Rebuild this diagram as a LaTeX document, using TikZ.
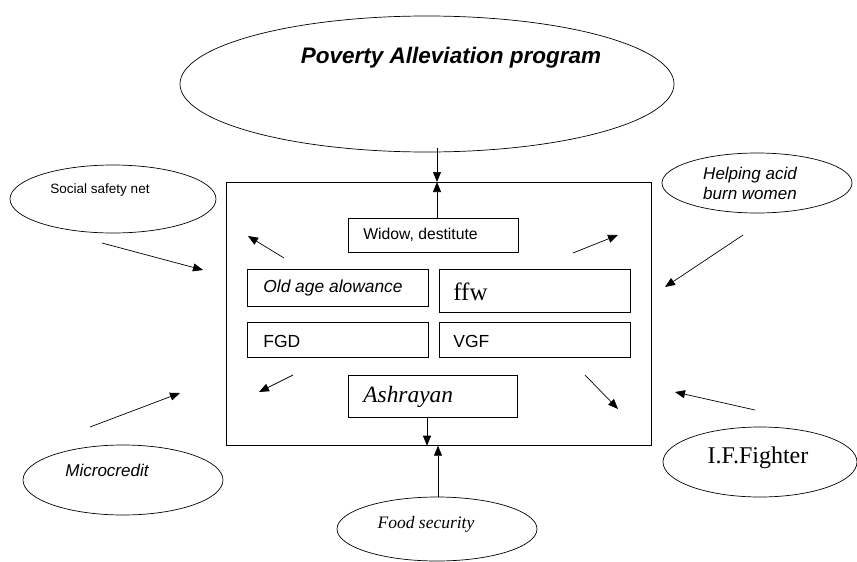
\documentclass[tikz,border=0pt]{standalone}
\usepackage{fontspec}
\setmainfont{Liberation Serif}
\setsansfont{Liberation Sans}
\usetikzlibrary{shapes.geometric,arrows.meta}
\begin{document}
\begin{tikzpicture}[x=1pt,y=-1pt,
  line width=0.7pt,
  oval/.style={draw,ellipse,inner sep=0pt},
  box/.style={draw,rectangle,inner sep=0pt,anchor=north west},
  arr/.style={-{Triangle[length=10pt,width=8pt]}},
  lbl/.style={inner sep=0pt,anchor=west},
  txt/.style={inner sep=0pt,align=center}]
\useasboundingbox (0,0) rectangle (857,562);

% ellipses
\node[oval,minimum width=494pt,minimum height=136pt] (pal) at (427,84) {};
\node[txt,font=\sffamily\bfseries\itshape\fontsize{22.5}{26}\selectfont] (paltxt) at (451,58) {Poverty Alleviation program};

\node[oval,minimum width=206pt,minimum height=68pt] (ssn) at (113,199) {};
\node[txt,font=\sffamily\fontsize{13.5}{16}\selectfont] (ssntxt) at (100,190) {Social safety net};

\node[oval,minimum width=190pt,minimum height=60pt] (acid) at (757,183) {};
\node[txt,font=\sffamily\itshape\fontsize{17}{20}\selectfont] (acidtxt) at (750,183) {Helping acid\\burn women};

\node[oval,minimum width=200pt,minimum height=70pt] (micro) at (123,480) {};
\node[txt,font=\sffamily\itshape\fontsize{17}{20}\selectfont] (microtxt) at (107,470) {Microcredit};

\node[oval,minimum width=194pt,minimum height=70pt] (iff) at (760,462) {};
\node[txt,font=\fontsize{24}{27}\selectfont] (ifftxt) at (758,458) {I.F.Fighter};

\node[oval,minimum width=200pt,minimum height=64pt] (food) at (437,529) {};
\node[txt,font=\itshape\fontsize{17.5}{20}\selectfont] (foodtxt) at (426,524) {Food security};

% main rectangle and boxes
\node[box,minimum width=425pt,minimum height=263pt] (main) at (226,182) {};
\node[box,minimum width=170pt,minimum height=34pt] (widow) at (348,218) {};
\node[box,minimum width=181pt,minimum height=37pt] (oldage) at (247,269) {};
\node[box,minimum width=191pt,minimum height=43pt] (ffw) at (439,269) {};
\node[box,minimum width=181pt,minimum height=35pt] (fgd) at (247,322) {};
\node[box,minimum width=191pt,minimum height=35pt] (vgf) at (439,322) {};
\node[box,minimum width=169pt,minimum height=42pt] (ash) at (348,375) {};

\node[lbl,font=\sffamily\fontsize{15.7}{18}\selectfont] (widowtxt) at (363,235) {Widow, destitute};
\node[lbl,font=\sffamily\itshape\fontsize{17.4}{20}\selectfont] (oldagetxt) at (263,288) {Old age alowance};
\node[lbl,font=\fontsize{25}{28}\selectfont] (ffwtxt) at (453,292) {ffw};
\node[lbl,font=\sffamily\fontsize{17.5}{20}\selectfont] (fgdtxt) at (263,341) {FGD};
\node[lbl,font=\sffamily\fontsize{17.5}{20}\selectfont] (vgftxt) at (453,341) {VGF};
\node[lbl,font=\itshape\fontsize{23.4}{26}\selectfont] (ashtxt) at (363,397) {Ashrayan};

% vertical arrows
\coordinate (vx1) at (437,148);
\coordinate (vx2) at (427,0);
\coordinate (vx3) at (438,0);
\draw[arr] (vx1) -- (vx1 |- main.north);
\draw[arr] (vx1 |- widow.north) -- (vx1 |- main.north);
\draw[arr] (vx2 |- ash.south) -- (vx2 |- main.south);
\draw[arr] (vx3 |- food.north) -- (vx3 |- main.south);

% diagonal arrows inside
\coordinate (d1a) at (284,258); \coordinate (d1b) at (248,236);
\coordinate (d2a) at (573,253); \coordinate (d2b) at (618,235);
\coordinate (d3a) at (293,375); \coordinate (d3b) at (259,392);
\coordinate (d4a) at (585,375); \coordinate (d4b) at (618,409);
\draw[arr] (d1a) -- (d1b);
\draw[arr] (d2a) -- (d2b);
\draw[arr] (d3a) -- (d3b);
\draw[arr] (d4a) -- (d4b);

% outer arrows
\coordinate (s1a) at (102,243); \coordinate (s1b) at (203,270);
\coordinate (s2a) at (743,235); \coordinate (s2b) at (665,287);
\coordinate (s3a) at (90,427);  \coordinate (s3b) at (180,393);
\coordinate (s4a) at (755,410); \coordinate (s4b) at (675,392);
\draw[arr] (s1a) -- (s1b);
\draw[arr] (s2a) -- (s2b);
\draw[arr] (s3a) -- (s3b);
\draw[arr] (s4a) -- (s4b);
\end{tikzpicture}
\end{document}
